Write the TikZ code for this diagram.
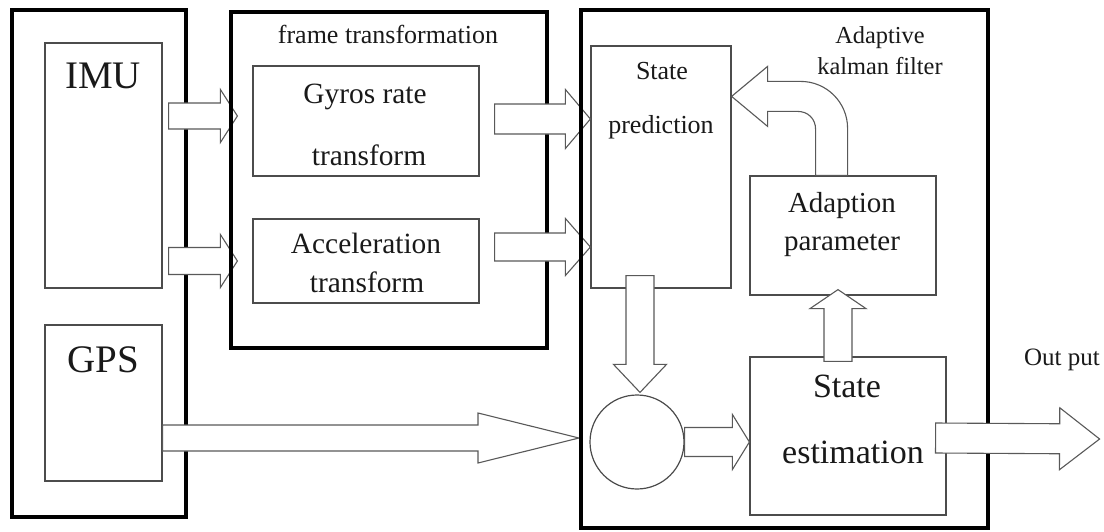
\documentclass[tikz,border=0pt]{standalone}
\usepackage{fontspec}
\setmainfont{Liberation Serif}
\usetikzlibrary{calc}
\pgfdeclarelayer{lB}\pgfdeclarelayer{lC}\pgfdeclarelayer{lD}\pgfdeclarelayer{lE}\pgfdeclarelayer{lF}
\pgfsetlayers{main,lB,lC,lD,lE,lF}
% block arrow: #1 start, #2 tip, #3 half shaft width, #4 half head width, #5 head length
\newcommand\barrow[5]{%
  \coordinate (ban) at ($(#2)!#5pt!(#1)$);
  \draw[blockarrow] ($(#1)!#3pt!90:(#2)$) -- ($(ban)!#3pt!90:(#2)$) -- ($(ban)!#4pt!90:(#2)$) -- (#2)
    -- ($(ban)!#4pt!-90:(#2)$) -- ($(ban)!#3pt!-90:(#2)$) -- ($(#1)!#3pt!-90:(#2)$) -- cycle;}
\begin{document}
\begin{tikzpicture}[x=1pt,y=-1pt,
  heavybox/.style={draw=black, line width=4pt, inner sep=0pt},
  box/.style={draw=black!70, line width=1.2pt, inner sep=0pt},
  blockarrow/.style={draw=black!65, line width=1.1pt, fill=white, line join=miter},
  lbl/.style={inner sep=0pt, anchor=base, text=black!90},
  fA/.style={font=\fontsize{39}{41}\selectfont},
  fB/.style={font=\fontsize{26}{28}\selectfont},
  fC/.style={font=\fontsize{29.4}{31}\selectfont},
  fD/.style={font=\fontsize{24.4}{26}\selectfont},
  fE/.style={font=\fontsize{29}{31}\selectfont},
  fF/.style={font=\fontsize{34}{36}\selectfont},
  fG/.style={font=\fontsize{25}{27}\selectfont}]
\useasboundingbox (0,0) rectangle (1104,531);
% boxes
\node[heavybox, minimum width=174pt, minimum height=507pt] (lb) at (99,263.5) {};
\node[box, minimum width=117pt, minimum height=245pt] (imu) at (103.5,165.5) {};
\node[box, minimum width=117pt, minimum height=156pt] (gps) at (103.5,403) {};
\node[box, minimum width=226pt, minimum height=110pt] (gy) at (366,121) {};
\node[box, minimum width=226pt, minimum height=84pt] (ac) at (366,261) {};
\node[box, minimum width=140pt, minimum height=242pt] (sp) at (661,167) {};
\node[box, minimum width=186pt, minimum height=119pt] (ad) at (843,235.5) {};
\node[box, minimum width=196pt, minimum height=158pt] (se) at (848,436) {};
\node[box, circle, minimum size=94pt] (circ) at (637,442) {};
\begin{pgfonlayer}{lC}
\node[heavybox, minimum width=316pt, minimum height=336pt] (ft) at (389,180) {};
\end{pgfonlayer}
\begin{pgfonlayer}{lE}
\node[heavybox, minimum width=407pt, minimum height=518pt] (kf) at (784.5,269) {};
\end{pgfonlayer}
% labels
\node[lbl, fA] (timu) at (103,88) {IMU};
\node[lbl, fA] (tgps) at (103,372) {GPS};
\node[lbl, fB] (tft) at (388,43) {frame transformation};
\node[lbl, fC] (tgy1) at (365,103) {Gyros rate};
\node[lbl, fC] (tgy2) at (369,165) {transform};
\node[lbl, fC] (tac1) at (366,253) {Acceleration};
\node[lbl, fC] (tac2) at (367,292) {transform};
\node[lbl, fB] (tsp1) at (662,79) {State};
\node[lbl, fB] (tsp2) at (661,133) {prediction};
\node[lbl, fD] (tkf1) at (880,43) {Adaptive};
\node[lbl, fD] (tkf2) at (880,74) {kalman filter};
\node[lbl, fE] (tad1) at (842,212) {Adaption};
\node[lbl, fE] (tad2) at (842,250) {parameter};
\node[lbl, fF] (tse1) at (847,397) {State};
\node[lbl, fF] (tse2) at (853,463) {estimation};
\node[lbl, fG] (tout) at (1062,365) {Out put};
% arrows crossing the left frame
\begin{pgfonlayer}{lB}
\coordinate (a1t) at ($(gy.west)+(-15,-5)$);
\coordinate (a1s) at ($(imu.east |- a1t)+(6,0)$);
\barrow{a1s}{a1t}{13}{26.5}{17}
\coordinate (a2t) at ($(ac.west)+(-15,0)$);
\coordinate (a2s) at ($(imu.east |- a2t)+(6,0)$);
\barrow{a2s}{a2t}{13.5}{26.5}{17}
\coordinate (a5s) at ($(gps.east)+(0,35)$);
\coordinate (a5t) at (kf.west |- a5s);
\barrow{a5s}{a5t}{13}{25}{101}
\end{pgfonlayer}
% arrows from frame transformation to state prediction
\begin{pgfonlayer}{lD}
\coordinate (a3s) at ($(gy.east)+(15,-2)$);
\coordinate (a3t) at (sp.west |- a3s);
\barrow{a3s}{a3t}{15}{29.5}{25}
\coordinate (a4s) at ($(ac.east)+(15,-14)$);
\coordinate (a4t) at (sp.west |- a4s);
\barrow{a4s}{a4t}{14}{28.5}{25}
\end{pgfonlayer}
% arrows inside the Kalman filter
\coordinate (a6t) at ($(circ.north)+(3,-2)$);
\coordinate (a6s) at ($(a6t |- sp.south)+(0,-13)$);
\barrow{a6s}{a6t}{14}{26.5}{28}
\coordinate (a7t) at (se.west |- circ.east);
\barrow{circ.east}{a7t}{14.5}{27.5}{17}
\coordinate (a8t) at ($(ad.south)+(-5,-6)$);
\coordinate (a8s) at ($(a8t |- se.north)+(0,5)$);
\barrow{a8s}{a8t}{14}{28}{19}
% curved feedback arrow from adaption parameter to state prediction
\coordinate (ctip) at ($(sp.north east)+(0,51)$);
\begin{scope}[shift={(ctip)}]
\draw[blockarrow] (84,79) -- (84,33) .. controls (84,22) and (76,15) .. (66,15) -- (36,15) -- (36,30)
  -- (0,0) -- (36,-30) -- (36,-15) -- (69,-15) .. controls (95,-15) and (116,6) .. (116,32) -- (116,79) -- cycle;
\end{scope}
% output arrow
\begin{pgfonlayer}{lF}
\coordinate (a9s) at ($(se.east)+(-11,2)$);
\coordinate (out) at ($(se.east)+(153,3)$);
\barrow{a9s}{out}{15}{31}{40}
\end{pgfonlayer}
\end{tikzpicture}
\end{document}
